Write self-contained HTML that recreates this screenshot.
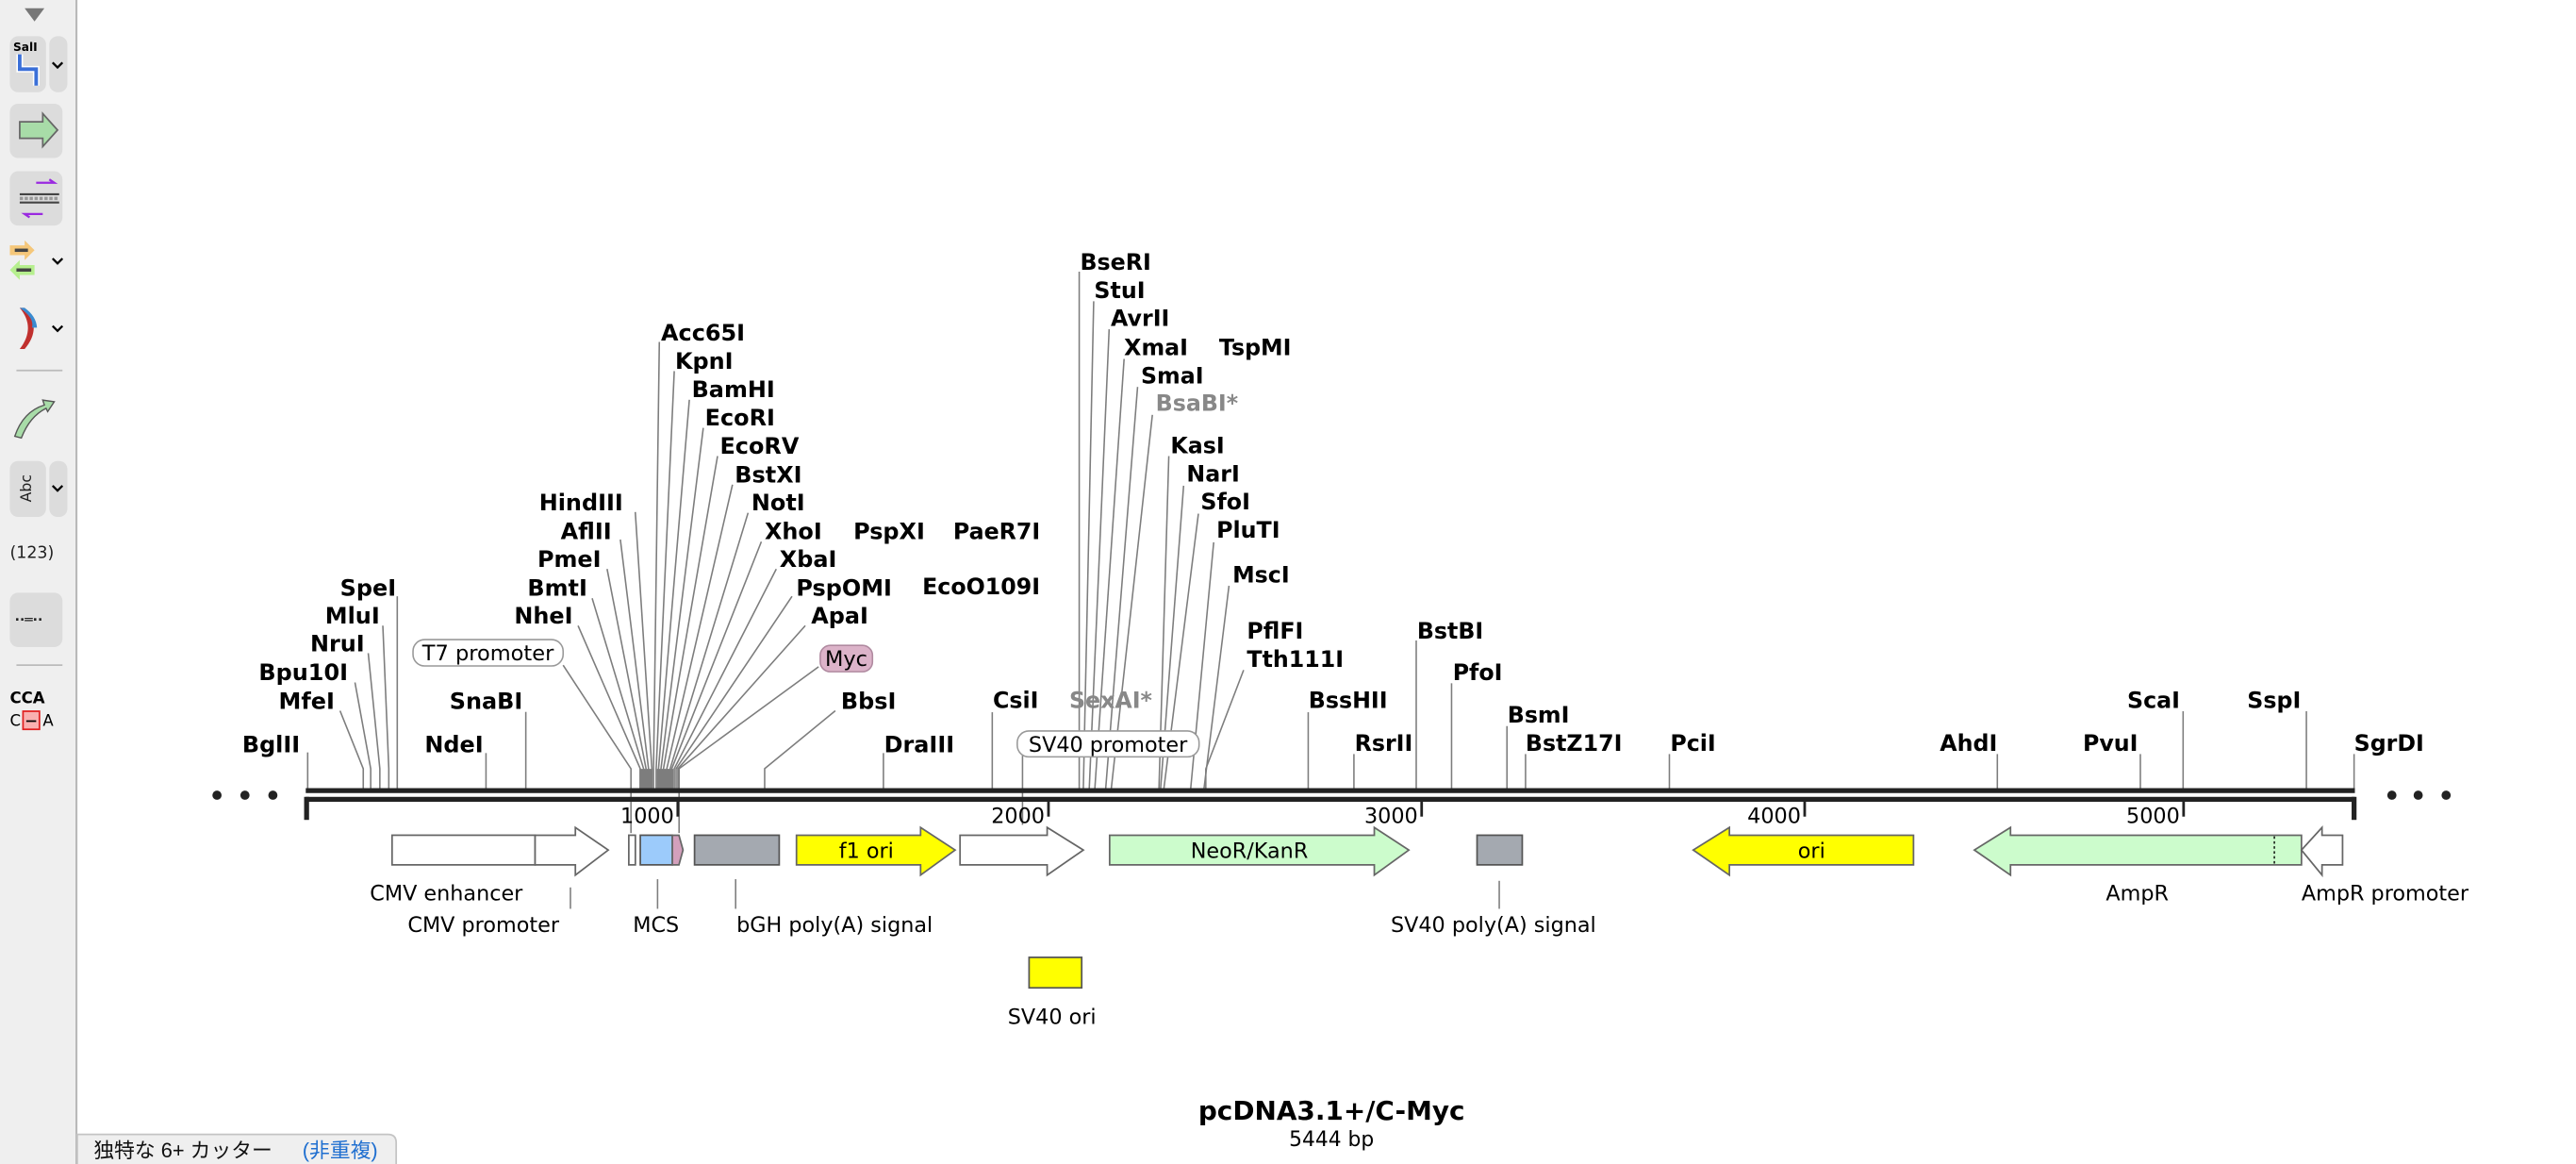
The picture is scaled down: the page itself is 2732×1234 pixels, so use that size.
<!DOCTYPE html>
<html><head><meta charset="utf-8">
<style>
html,body{margin:0;padding:0;background:#fff;}
svg{display:block;}
.e{font-family:"DejaVu Sans","Liberation Sans",sans-serif;font-weight:bold;font-size:13.6px;fill:#000;}
.g{fill:#888;}
.n{font-family:"DejaVu Sans","Liberation Sans",sans-serif;font-size:12.8px;fill:#000;}
.l{fill:none;stroke:#7d7d7d;stroke-width:0.9;}
</style></head><body>
<svg width="2732" height="1234" viewBox="0 0 1567 707" preserveAspectRatio="none" xmlns="http://www.w3.org/2000/svg">
<rect x="0" y="0" width="1567" height="707" fill="#fff"/>
<!-- toolbar -->
<rect x="0" y="0" width="46" height="707" fill="#efefef"/>
<line x1="46.5" y1="0" x2="46.5" y2="707" stroke="#b8b8b8" stroke-width="1.2"/>
<polygon points="15,5 27,5 21,13" fill="#777"/>
<rect x="6" y="22" width="22" height="34" rx="5" fill="#dcdcdc"/>
<rect x="30" y="22" width="11" height="34" rx="5" fill="#dcdcdc"/>
<text x="8" y="31" font-family="DejaVu Sans" font-weight="bold" font-size="7" fill="#000">SalI</text>
<polyline points="12,33 12,42 22,42 22,52" fill="none" stroke="#fff" stroke-width="4"/>
<polyline points="12,33 12,42 22,42 22,52" fill="none" stroke="#3a6fd8" stroke-width="2.2"/>
<polyline points="32,38 35,41 38,38" fill="none" stroke="#000" stroke-width="1.3"/>
<rect x="6" y="63" width="32" height="33" rx="5" fill="#dcdcdc"/>
<polygon points="12,74 26,74 26,69 35,79 26,89 26,84 12,84" fill="#a8dca8" stroke="#666" stroke-width="1"/>
<rect x="6" y="104" width="32" height="33" rx="5" fill="#dcdcdc"/>
<line x1="12" y1="118" x2="36" y2="118" stroke="#444" stroke-width="1.2"/>
<line x1="12" y1="123" x2="36" y2="123" stroke="#444" stroke-width="1.2"/>
<line x1="12" y1="120.5" x2="36" y2="120.5" stroke="#999" stroke-width="2" stroke-dasharray="2,1"/>
<polyline points="22,111 33,111 30,109" fill="none" stroke="#9a2ae0" stroke-width="1.3"/>
<polyline points="26,130 15,130 18,132" fill="none" stroke="#9a2ae0" stroke-width="1.3"/>
<polygon points="6,149 15,149 15,146 21,152 15,158 15,155 6,155" fill="#f5c77a"/>
<line x1="9" y1="152" x2="17" y2="152" stroke="#444" stroke-width="2"/>
<polygon points="21,161 12,161 12,158 6,164 12,170 12,167 21,167" fill="#b6ef8e"/>
<line x1="10" y1="164" x2="19" y2="164" stroke="#444" stroke-width="2"/>
<polyline points="32,157 35,160 38,157" fill="none" stroke="#000" stroke-width="1.3"/>
<path d="M12,187 Q22,199 12,212 L15,212 Q26,199 15,187 Z" fill="#c0302e"/>
<path d="M12,187 Q21,193 19.5,199 L22.5,199 Q22,192 15,187 Z" fill="#3a8bd0"/>
<polyline points="32,198 35,201 38,198" fill="none" stroke="#000" stroke-width="1.3"/>
<line x1="10" y1="225" x2="38" y2="225" stroke="#bbb" stroke-width="1"/>
<path d="M9,265 Q14,250 27,246 L26,243 L33,244 L29,250 L28,248 Q18,253 13,266 Z" fill="#a8dca8" stroke="#555" stroke-width="0.8"/>
<rect x="6" y="280" width="22" height="34" rx="5" fill="#dcdcdc"/>
<rect x="30" y="280" width="11" height="34" rx="5" fill="#dcdcdc"/>
<text x="0" y="0" transform="translate(19,305) rotate(-90)" font-family="DejaVu Sans" font-size="9" fill="#222">Abc</text>
<polyline points="32,295 35,298 38,295" fill="none" stroke="#000" stroke-width="1.3"/>
<text x="6" y="339" font-family="DejaVu Sans" font-size="10" fill="#222">(123)</text>
<rect x="6" y="360" width="32" height="33" rx="5" fill="#dcdcdc"/>
<text x="9" y="379" font-family="DejaVu Sans" font-weight="bold" font-size="8" fill="#222">··═··</text>
<line x1="10" y1="404" x2="38" y2="404" stroke="#bbb" stroke-width="1"/>
<text x="6" y="427" font-family="DejaVu Sans" font-weight="bold" font-size="9.5" fill="#000">CCA</text>
<rect x="14" y="432" width="10" height="11" fill="#f9b0b0" stroke="#e02020" stroke-width="1"/>
<text x="6" y="441" font-family="DejaVu Sans" font-size="9.5" fill="#000">C</text>
<line x1="16" y1="438" x2="22" y2="438" stroke="#000" stroke-width="1"/>
<text x="26" y="441" font-family="DejaVu Sans" font-size="9.5" fill="#000">A</text>
<!-- bottom tab -->
<path d="M47,707 L47,689 L236,689 Q241,689 241,694 L241,707" fill="#efefef" stroke="#c4c4c4" stroke-width="1"/>
<text x="57" y="703" font-family="Liberation Sans,Noto Sans CJK JP,sans-serif" font-size="12.5" fill="#111">独特な 6+ カッター</text>
<text x="184" y="703" font-family="Liberation Sans,Noto Sans CJK JP,sans-serif" font-size="12.5" fill="#1f6fd0">(非重複)</text>

<!-- dots -->
<circle cx="132" cy="483" r="2.8" fill="#222"/><circle cx="149" cy="483" r="2.8" fill="#222"/><circle cx="166" cy="483" r="2.8" fill="#222"/>
<circle cx="1455" cy="483" r="2.8" fill="#222"/><circle cx="1471" cy="483" r="2.8" fill="#222"/><circle cx="1488" cy="483" r="2.8" fill="#222"/>

<!-- left cluster -->
<g transform="matrix(1.009 0 0 1 0 0)">
<g class="l">
<polyline points="185.5,457 185.5,479"/>
<polyline points="205,431.7 219,466.9 219,479"/>
<polyline points="214,414.5 223.5,466.9 223.5,479"/>
<polyline points="222,396.7 229,466.9 229,479"/>
<polyline points="230.8,380 234.4,466.9 234.4,479"/>
<polyline points="239.5,362.2 239.5,479"/>
<polyline points="293,457.4 293,479"/>
<polyline points="317,432.4 317,479"/>
<polyline points="339.5,404 380.4,466.9 380.4,506"/>
<polyline points="348.5,380 386,466.9 386,479"/>
<polyline points="357,363.4 388,466.9 388,479"/>
<polyline points="366,345.6 389.5,466.9 389.5,479"/>
<polyline points="374,327.7 391,466.9 391,479"/>
<polyline points="383,311 393,466.9 393,479"/>
<polyline points="397.5,207.7 394,466.9 394,479"/>
<polyline points="406.5,225.4 395.6,466.9 395.6,479"/>
<polyline points="415.6,242.8 397,466.9 397,479"/>
<polyline points="424,259.9 398.5,466.9 398.5,479"/>
<polyline points="432.6,277 400,466.9 400,479"/>
<polyline points="441.6,294.4 402,466.9 402,479"/>
<polyline points="451,311.5 404,466.9 404,479"/>
<polyline points="459,329 405,466.9 405,479"/>
<polyline points="468,345.6 406.5,466.9 406.5,479"/>
<polyline points="477.5,362.2 407.6,466.9 407.6,479"/>
<polyline points="485.5,380 408.7,466.9 408.7,479"/>
<polyline points="493.5,405 409.4,466.9 409.4,506"/>
<polyline points="503.6,431.7 461,466.9 461,479"/>
<polyline points="532.6,457.4 532.6,479"/>
</g>
<rect x="385.5" y="467" width="8" height="12" fill="#7d7d7d"/>
<rect x="396" y="467" width="10" height="12" fill="#7d7d7d"/>
<g class="e">
<text x="146" y="457">BglII</text>
<text x="168" y="430.7">MfeI</text>
<text x="156" y="413">Bpu10I</text>
<text x="187" y="395.7">NruI</text>
<text x="196" y="378.6">MluI</text>
<text x="205" y="361.8">SpeI</text>
<text x="256" y="457">NdeI</text>
<text x="271" y="430.7">SnaBI</text>
<text x="325" y="310">HindIII</text>
<text x="338" y="327.3">AflII</text>
<text x="324" y="344.4">PmeI</text>
<text x="318" y="361.8">BmtI</text>
<text x="310" y="378.6">NheI</text>
<text x="398.5" y="206.7">Acc65I</text>
<text x="407" y="224">KpnI</text>
<text x="417" y="241.1">BamHI</text>
<text x="425" y="258.3">EcoRI</text>
<text x="434" y="275.7">EcoRV</text>
<text x="443" y="293">BstXI</text>
<text x="453" y="310">NotI</text>
<text x="461" y="327.3">XhoI</text>
<text x="470" y="344.4">XbaI</text>
<text x="480" y="361.8">PspOMI</text>
<text x="489" y="378.6">ApaI</text>
<text x="514.5" y="327.3">PspXI</text>
<text x="507" y="430.7">BbsI</text>
<text x="533" y="457">DraIII</text>
</g>
<rect x="249" y="388.5" width="90.5" height="16" rx="7" fill="#fff" stroke="#999" stroke-width="0.9"/>
<text x="294.2" y="401" text-anchor="middle" class="n">T7 promoter</text>
<rect x="494.5" y="392" width="31.5" height="16" rx="6" fill="#dcb3c9" stroke="#b08aa0" stroke-width="0.9"/>
<text x="510.2" y="404.5" text-anchor="middle" class="n">Myc</text>
</g>

<!-- middle -->
<g class="l">
<polyline points="656.5,165 656.5,479"/>
<polyline points="665.3,183 659,479"/>
<polyline points="674.7,200 662.6,479"/>
<polyline points="683.8,218 666,479"/>
<polyline points="692,235 672.6,479"/>
<polyline points="701,252 676,479"/>
<polyline points="711,277 705,479"/>
<polyline points="720,295 706,479"/>
<polyline points="729,312 708,479"/>
<polyline points="738.3,329.4 724.3,479"/>
<polyline points="747.6,355.8 732.4,479"/>
<polyline points="756.5,407 733.5,467 733.5,479"/>
<polyline points="603.6,432.6 603.6,479"/>
<polyline points="622,459 622,501"/>
<polyline points="795.8,432.6 795.8,479"/>
<polyline points="823.6,458 823.6,479"/>
<polyline points="861.5,389 861.5,479"/>
<polyline points="883,415 883,479"/>
<polyline points="916.7,441 916.7,479"/>
<polyline points="928,458 928,479"/>
<polyline points="1015.5,458 1015.5,479"/>
<polyline points="1215,458 1215,479"/>
<polyline points="1302,458 1302,479"/>
<polyline points="1328,432 1328,479"/>
<polyline points="1403,432 1403,479"/>
<polyline points="1432,458 1432,479"/>
</g>
<rect x="618.8" y="444" width="110.6" height="15.7" rx="7" fill="#fff" stroke="#999" stroke-width="0.9"/>
<text x="674" y="456.5" text-anchor="middle" class="n">SV40 promoter</text>
<g class="e">
<text x="579.8" y="327.3">PaeR7I</text>
<text x="561" y="361">EcoO109I</text>
<text x="657" y="164">BseRI</text>
<text x="665.6" y="181">StuI</text>
<text x="675.7" y="198">AvrII</text>
<text x="683.8" y="215.6">XmaI</text>
<text x="741.6" y="215.6">TspMI</text>
<text x="694" y="233">SmaI</text>
<text x="703" y="249.5" class="e g">BsaBI*</text>
<text x="712" y="275.3">KasI</text>
<text x="721.8" y="292.4">NarI</text>
<text x="730.4" y="309.5">SfoI</text>
<text x="740" y="326.6">PluTI</text>
<text x="749.7" y="353.7">MscI</text>
<text x="758.5" y="388">PflFI</text>
<text x="758.5" y="405">Tth111I</text>
<text x="604" y="430">CsiI</text>
<text x="650.4" y="430" class="e g">SexAI*</text>
<text x="796" y="430">BssHII</text>
<text x="824" y="456">RsrII</text>
<text x="862" y="388">BstBI</text>
<text x="883.7" y="413">PfoI</text>
<text x="917" y="439">BsmI</text>
<text x="928" y="456">BstZ17I</text>
<text x="1016" y="456">PciI</text>
<text x="1180" y="456">AhdI</text>
<text x="1267" y="456">PvuI</text>
<text x="1294" y="430">ScaI</text>
<text x="1367" y="430">SspI</text>
<text x="1432" y="456">SgrDI</text>
</g>

<!-- backbone -->
<rect x="186" y="478.7" width="1246.5" height="3" fill="#222"/>
<rect x="186" y="484" width="1246.5" height="3" fill="#222"/>
<rect x="185" y="484" width="3" height="14" fill="#222"/>
<rect x="1430.5" y="484" width="3" height="14" fill="#222"/>
<g fill="#222">
<rect x="411.5" y="487" width="1.6" height="9"/>
<rect x="637" y="487" width="1.6" height="9"/>
<rect x="864" y="487" width="1.6" height="9"/>
<rect x="1097" y="487" width="1.6" height="9"/>
<rect x="1327.5" y="487" width="1.6" height="9"/>
</g>
<g class="n" text-anchor="end">
<text x="410" y="500">1000</text>
<text x="635.5" y="500">2000</text>
<text x="862.5" y="500">3000</text>
<text x="1095.5" y="500">4000</text>
<text x="1326" y="500">5000</text>
</g>

<!-- features -->
<g stroke="#666" stroke-width="1">
<rect x="238.5" y="507.3" width="87" height="18" fill="#fff"/>
<polygon points="325.5,507.3 350,507.3 350,502.6 370,516.3 350,531.5 350,525.3 325.5,525.3" fill="#fff"/>
<rect x="382.5" y="507.3" width="4" height="18" fill="#fff"/>
<rect x="389.5" y="507.3" width="19.5" height="18" fill="#9ccbfb" stroke="#555"/>
<polygon points="409,507.3 413,507.3 415.5,516.3 413,525.3 409,525.3" fill="#d3a0bc"/>
<rect x="422.5" y="507.3" width="51.5" height="18" fill="#a4a9b0" stroke="#555"/>
<polygon points="484.5,507.3 560,507.3 560,502.6 581,516.3 560,531.5 560,525.3 484.5,525.3" fill="#ffff00"/>
<polygon points="584,507.3 637,507.3 637,502.6 659,516.3 637,531.5 637,525.3 584,525.3" fill="#fff"/>
<polygon points="675,507.3 836,507.3 836,502.6 857,516.3 836,531.5 836,525.3 675,525.3" fill="#ccfccc"/>
<rect x="898.5" y="507.3" width="27.5" height="18" fill="#a4a9b0" stroke="#555"/>
<polygon points="1164,507.3 1052,507.3 1052,502.6 1030,516.3 1052,531.5 1052,525.3 1164,525.3" fill="#ffff00"/>
<polygon points="1400,507.3 1223,507.3 1223,502.6 1201,516.3 1223,531.5 1223,525.3 1400,525.3" fill="#ccfccc"/>
<polygon points="1425,507.3 1412.5,507.3 1412.5,502.6 1400,516.3 1412.5,531.5 1412.5,525.3 1425,525.3" fill="#fff"/>
<rect x="626" y="581.5" width="32" height="18.5" fill="#ffff00" stroke="#555"/>
</g>
<line x1="1383.5" y1="508" x2="1383.5" y2="525" stroke="#000" stroke-width="0.8" stroke-dasharray="1.5,1.5"/>
<text x="527" y="521" text-anchor="middle" class="n">f1 ori</text>
<text x="760" y="521" text-anchor="middle" class="n">NeoR/KanR</text>
<text x="1102" y="521" text-anchor="middle" class="n">ori</text>
<g class="l">
<line x1="347" y1="539" x2="347" y2="552"/>
<line x1="400" y1="534" x2="400" y2="552"/>
<line x1="447.5" y1="534" x2="447.5" y2="552"/>
<line x1="912" y1="535" x2="912" y2="552"/>
</g>
<g class="n">
<text x="225" y="547">CMV enhancer</text>
<text x="248" y="566">CMV promoter</text>
<text x="385" y="566">MCS</text>
<text x="448" y="566">bGH poly(A) signal</text>
<text x="846" y="566">SV40 poly(A) signal</text>
<text x="613" y="622">SV40 ori</text>
<text x="1281" y="547">AmpR</text>
<text x="1400" y="547">AmpR promoter</text>
</g>
<text x="810" y="680" text-anchor="middle" font-family="DejaVu Sans,Liberation Sans,sans-serif" font-weight="bold" font-size="16" fill="#000">pcDNA3.1+/C-Myc</text>
<text x="810" y="696" text-anchor="middle" class="n" style="font-size:12.5px">5444 bp</text>
</svg>
</body></html>
